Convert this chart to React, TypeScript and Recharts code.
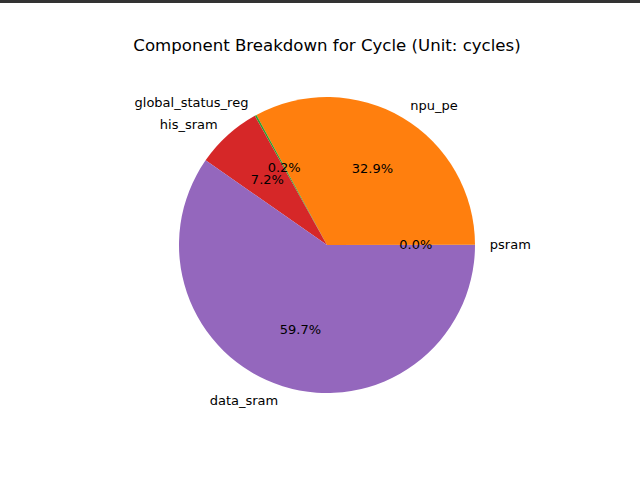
import { PieChart, Pie, Cell } from 'recharts'

const names = ['psram', 'npu_pe', 'global_status_reg', 'his_sram', 'data_sram']
const values = [0.02, 32.9, 0.2, 7.2, 59.7]
const colors = ['#1f77b4', '#ff7f0e', '#2ca02c', '#d62728', '#9467bd']

const data = names.map((n, i) => ({ name: n, value: values[i] }))
const RAD = Math.PI / 180

const renderLabel = (p: any) => {
  const { cx, cy, midAngle, outerRadius, index, percent } = p
  const c = Math.cos(midAngle * RAD)
  const s = Math.sin(midAngle * RAD)
  const lx = cx + outerRadius * 1.1 * c
  const ly = cy - outerRadius * 1.1 * s
  const px = cx + outerRadius * 0.6 * c
  const py = cy - outerRadius * 0.6 * s
  return (
    <g>
      <text x={lx} y={ly} textAnchor={c >= 0 ? 'start' : 'end'} dominantBaseline="central"
        fontSize={13} fill="#000" fontFamily="DejaVu Sans">{names[index]}</text>
      <text x={px} y={py} textAnchor="middle" dominantBaseline="central"
        fontSize={13} fill="#000" fontFamily="DejaVu Sans">{(percent * 100).toFixed(1)}%</text>
    </g>
  )
}

export default function App() {
  return (
    <div style={{ position: 'absolute', left: 0, top: 0, width: 640, height: 483, background: '#fff' }}>
      <div style={{ position: 'absolute', left: 0, top: 0, width: 640, height: 3, background: '#333' }} />
      <div style={{ position: 'absolute', left: 0, top: 36, width: 654, textAlign: 'center', fontFamily: 'DejaVu Sans', fontSize: 16.6, color: '#000' }}>
        Component Breakdown for Cycle (Unit: cycles)
      </div>
      <div style={{ position: 'absolute', left: 0, top: 0 }}>
        <PieChart width={640} height={483} margin={{ top: 0, right: 0, bottom: 0, left: 0 }}>
          <Pie data={data} dataKey="value" cx={327} cy={245} outerRadius={148}
            startAngle={0} endAngle={360} stroke="none" labelLine={false}
            label={renderLabel} isAnimationActive={false}>
            {data.map((_d, i) => <Cell key={i} fill={colors[i]} />)}
          </Pie>
        </PieChart>
      </div>
    </div>
  )
}
